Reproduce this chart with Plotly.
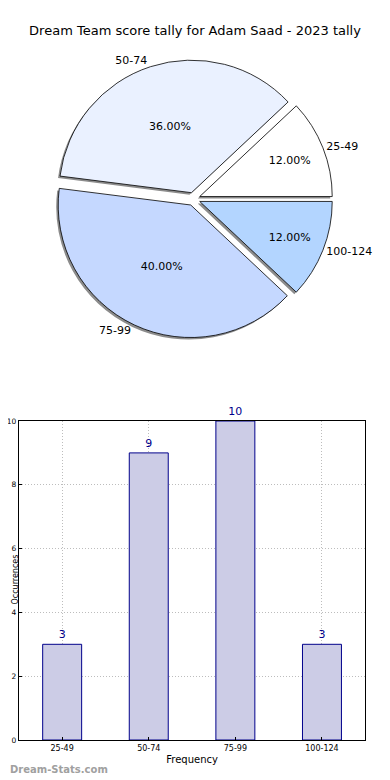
import plotly.graph_objects as go

categories = ["25-49", "50-74", "75-99", "100-124"]
counts = [3, 9, 10, 3]
pie_colors = ["#ffffff", "#eaf1ff", "#c5d8ff", "#b3d5ff"]
y_ticks = [0, 2, 4, 6, 8, 10]
title_text = "Dream Team score tally for Adam Saad - 2023 tally"

# the page body has an 8px margin, so the figure is 8px smaller
OFF = 8
W, H = 390 - OFF, 780 - OFF
FONT = "DejaVu Sans"

def px(x):
    return (x - OFF) / W
def py(y):
    return 1 - (y - OFF) / H

# pie geometry (reference pixels)
cx, cy, half = 196, 199, 141
def dom(cxp, cyp):
    return dict(x=[px(cxp - half), px(cxp + half)],
                y=[py(cyp + half), py(cyp - half)])

pull = [0.05] * 4
ROT = 46.8
fig = go.Figure()

# shadow
fig.add_trace(go.Pie(
    labels=categories, values=counts, sort=False, direction="counterclockwise",
    rotation=ROT, pull=pull, domain=dom(cx - 2, cy + 2),
    marker=dict(colors=["#8c8c8c"] * 4, line=dict(width=0)),
    textinfo="none", hoverinfo="skip", showlegend=False))

# main pie with percentages inside
fig.add_trace(go.Pie(
    labels=categories, values=counts, sort=False, direction="counterclockwise",
    rotation=ROT, pull=pull, domain=dom(cx, cy),
    marker=dict(colors=pie_colors, line=dict(color="black", width=0.8)),
    texttemplate="%{percent:.2%}", textposition="inside",
    insidetextorientation="horizontal",
    textfont=dict(family=FONT, size=11, color="black"), showlegend=False))

# label pie (transparent) for outside category labels
fig.add_trace(go.Pie(
    labels=categories, values=counts, sort=False, direction="counterclockwise",
    rotation=ROT, pull=pull, domain=dom(cx, cy),
    marker=dict(colors=["rgba(0,0,0,0)"] * 4, line=dict(width=0)),
    textinfo="label", textposition="outside", hoverinfo="skip",
    textfont=dict(family=FONT, size=11, color="black"), showlegend=False))

# bar chart
fig.add_trace(go.Bar(
    x=categories, y=counts, width=0.45,
    marker=dict(color="#ccccE6", line=dict(color="#00008b", width=1)),
    text=[str(c) for c in counts], textposition="outside",
    textfont=dict(family=FONT, size=11, color="#00008b"),
    cliponaxis=False, showlegend=False, xaxis="x", yaxis="y"))

fig.update_layout(
    width=W, height=H, margin=dict(l=0, r=0, t=0, b=0),
    paper_bgcolor="white", plot_bgcolor="white",
    font=dict(family=FONT, color="black"),
    title=dict(text=title_text, x=px(195), xref="container", xanchor="center",
               y=py(30), yref="container", yanchor="middle",
               font=dict(family=FONT, size=13, color="black")),
    xaxis=dict(domain=[px(19), px(370)], anchor="y", type="category", automargin=False,
               range=[-0.5, 3.5], showline=True, mirror=True, linecolor="black",
               linewidth=1, showgrid=True, gridcolor="#bdbdbd", griddash="1px,2px",
               ticks="inside", ticklen=3, tickcolor="black",
               tickfont=dict(size=8), title=dict(text="Frequency", font=dict(size=10), standoff=4)),
    yaxis=dict(domain=[py(740), py(421)], anchor="x", range=[0, 10], automargin=False,
               tickvals=y_ticks, showline=True, mirror=True, linecolor="black",
               linewidth=1, showgrid=True, gridcolor="#bdbdbd", griddash="1px,2px",
               ticks="inside", ticklen=3, tickcolor="black", tickfont=dict(size=7.5),
               zeroline=False),
    annotations=[
        dict(text="Occurrences", x=0, y=py(580), xref="paper", yref="paper",
             textangle=-90, showarrow=False, font=dict(size=8, color="black"),
             xanchor="left", yanchor="middle"),
        dict(text="<b>Dream-Stats.com</b>", x=0, y=py(769), xref="paper", yref="paper",
             showarrow=False, font=dict(family=FONT, size=10, color="#a0a0a0"),
             xanchor="left", yanchor="middle"),
    ],
)

fig.write_html("out.html")
